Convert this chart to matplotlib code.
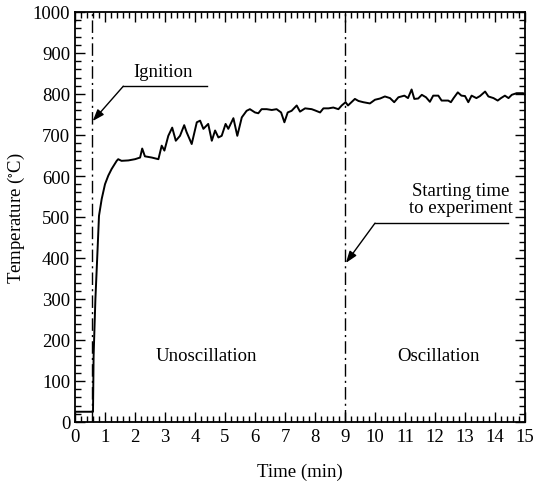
import matplotlib
matplotlib.use("Agg")
import matplotlib.pyplot as plt
from matplotlib.ticker import MultipleLocator

plt.rcParams['font.family'] = ['Liberation Serif', 'DejaVu Serif']
plt.rcParams['mathtext.fontset'] = 'stix'

time_min = [0.0, 0.6, 0.62, 0.68, 0.74, 0.8, 0.89, 1.0, 1.11, 1.22, 1.39, 1.44, 1.55,
            1.78, 2.0, 2.17, 2.24, 2.33, 2.56, 2.78, 2.89, 2.98, 3.11, 3.24, 3.36,
            3.5, 3.64, 3.72, 3.89, 4.06, 4.17, 4.28, 4.44, 4.56, 4.67, 4.78, 4.89,
            5.02, 5.11, 5.28, 5.41, 5.56, 5.72, 5.83, 6.0, 6.11, 6.22, 6.39, 6.56,
            6.72, 6.87, 6.98, 7.09, 7.22, 7.39, 7.5, 7.67, 7.89, 8.0, 8.17, 8.28,
            8.45, 8.61, 8.78, 8.89, 9.02, 9.1, 9.33, 9.45, 9.61, 9.83, 10.0, 10.17,
            10.33, 10.5, 10.64, 10.78, 10.98, 11.1, 11.22, 11.31, 11.44, 11.56,
            11.7, 11.83, 11.94, 12.11, 12.22, 12.44, 12.53, 12.62, 12.76, 12.88,
            13.0, 13.11, 13.22, 13.38, 13.5, 13.67, 13.78, 13.95, 14.09, 14.2,
            14.33, 14.45, 14.56, 14.72, 14.94, 15.0]
temperature = [25, 25, 160, 300, 400, 503, 544, 580, 601, 617, 637, 641, 637,
               638, 641, 645, 667, 648, 645, 641, 674, 662, 698, 718, 686,
               698, 724, 707, 678, 731, 735, 715, 727, 686, 711, 694, 698,
               727, 715, 741, 698, 743, 759, 763, 755, 753, 763, 763, 761,
               763, 755, 731, 755, 759, 772, 757, 765, 763, 760, 755, 765,
               765, 767, 763, 772, 780, 772, 788, 783, 780, 777, 786, 789,
               794, 790, 780, 792, 796, 790, 811, 788, 789, 798,
               792, 781, 796, 796, 784, 784, 780, 790, 804, 796,
               795, 780, 796, 790, 795, 806, 794, 790, 784, 790,
               796, 790, 798, 802, 802, 798]

ignition_time = 0.55
start_time = 9.0

fig = plt.figure(figsize=(5.43, 4.89), dpi=100)
ax = fig.add_axes([75/543, 66/489, 450/543, 410/489])

ax.plot(time_min, temperature, color='black', lw=1.4)
dashdot = (0, (9, 3, 1.5, 3))
ax.axvline(ignition_time, color='black', lw=1.0, linestyle=dashdot)
ax.axvline(start_time, color='black', lw=1.0, linestyle=dashdot)

ax.set_xlim(0, 15)
ax.set_ylim(0, 1000)
ax.xaxis.set_major_locator(MultipleLocator(1))
ax.xaxis.set_minor_locator(MultipleLocator(0.2))
ax.yaxis.set_major_locator(MultipleLocator(100))
ax.yaxis.set_minor_locator(MultipleLocator(20))
ax.tick_params(which='both', direction='in', top=True, right=True, width=1.0,
               labelsize=13.5, colors='black')
ax.tick_params(which='major', length=7)
ax.tick_params(which='minor', length=4)
ax.tick_params(axis='x', pad=4)
for s in ax.spines.values():
    s.set_linewidth(1.3)

ax.set_xlabel('Time (min)', fontsize=13.5, labelpad=13)
ax.set_ylabel('Temperature ($\\mathregular{^{\\circ}}$C)', fontsize=13.5, labelpad=4)

fs = 13.5
# Ignition annotation
ax.text(2.93, 856, 'Ignition', fontsize=fs, ha='center', va='center')
ax.plot([4.39, 1.61], [819, 819], color='black', lw=1.0)
ax.annotate('', xy=(0.59, 734), xytext=(1.61, 819),
            arrowprops=dict(arrowstyle='-|>,head_length=0.7,head_width=0.25',
                            color='black', lw=1.0, shrinkA=0, shrinkB=0))

# Starting time annotation
ax.text(12.85, 544, 'Starting time\nto experiment', fontsize=fs, ha='center',
        va='center', linespacing=1.0)
ax.plot([14.43, 10.0], [485, 485], color='black', lw=1.0)
ax.annotate('', xy=(9.03, 388), xytext=(10.0, 485),
            arrowprops=dict(arrowstyle='-|>,head_length=0.7,head_width=0.25',
                            color='black', lw=1.0, shrinkA=0, shrinkB=0))

ax.text(4.37, 161, 'Unoscillation', fontsize=fs, ha='center', va='center')
ax.text(12.1, 161, 'Oscillation', fontsize=fs, ha='center', va='center')

fig.savefig('out.png', dpi=100)
